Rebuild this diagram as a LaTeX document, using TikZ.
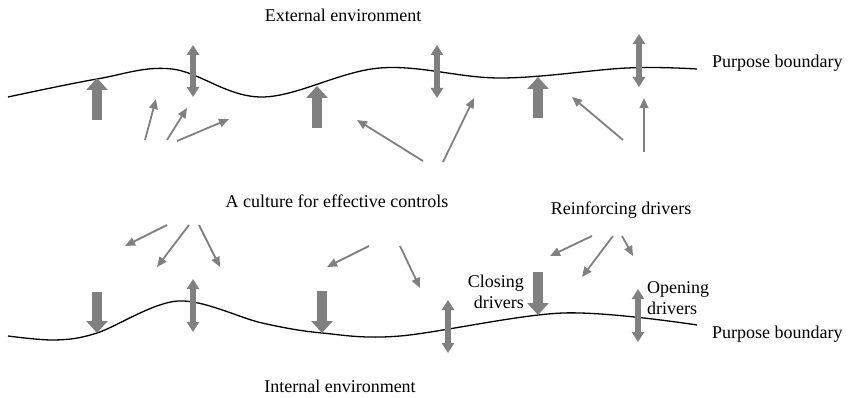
\documentclass[tikz,border=0pt]{standalone}
\usepackage{fontspec}
\setmainfont{Liberation Serif}
\usetikzlibrary{arrows.meta}
\definecolor{drivergray}{RGB}{128,128,128}
\tikzset{
  boundary/.style={line width=1.3pt, black},
  label/.style={font=\fontsize{18}{20.5}\selectfont, inner sep=0pt, align=center},
  thin/.style={drivergray, line width=1.8pt, -{Triangle[width=8.5pt,length=10pt]}},
  thick/.style={drivergray, line width=10pt, -{Triangle[width=21pt,length=12pt]}},
  both/.style={drivergray, line width=5.5pt, {Triangle[width=12pt,length=10pt]}-{Triangle[width=12pt,length=10pt]}},
}
\begin{document}
\begin{tikzpicture}[x=1pt,y=-1pt]
\useasboundingbox (0,0) rectangle (853,398);

% upper purpose boundary
\draw[boundary] plot[smooth, tension=0.6] coordinates
  {(8,97) (97,79) (172,69) (262,97) (380,68) (500,78) (627,68) (697,69)};
% lower purpose boundary
\draw[boundary] plot[smooth, tension=0.55] coordinates
  {(8,336) (55,340) (97,333) (178,301) (262,323) (322,333) (400,336) (563,313) (697,325)};

% labels
\node[label] (ext) at (343,15) {External environment};
\node[label, anchor=west] (pbtop) at (712,63) {Purpose boundary};
\node[label] (culture) at (337,201) {A culture for effective controls};
\node[label] (reinf) at (621,210) {Reinforcing drivers};
\node[label, align=right, anchor=east] (closing) at (524,292) {Closing\\drivers};
\node[label, align=left, anchor=west] (opening) at (647,298) {Opening\\drivers};
\node[label, anchor=west] (pbbot) at (712,334) {Purpose boundary};
\node[label] (int) at (340,386) {Internal environment};

% upper closing drivers (thick, pushing the boundary outwards)
\draw[thick] (97,120) -- (97,78);
\draw[thick] (317,128) -- (317,86);
\draw[thick] (538,118) -- (538,77);

% upper opening drivers (two-way)
\draw[both] (193,45) -- (193,97);
\draw[both] (437,45) -- (437,98);
\draw[both] (639,34) -- (639,87);

% upper reinforcing drivers
\draw[thin] (145,140) -- (156,99);
\draw[thin] (167,140) -- (187,108);
\draw[thin] (177,141) -- (229,119);
\draw[thin] (423,161) -- (357,120);
\draw[thin] (443,162) -- (474,98);
\draw[thin] (623,140) -- (572,97);
\draw[thin] (644,152) -- (644,98);

% lower reinforcing drivers
\draw[thin] (167,225) -- (125,246);
\draw[thin] (189,225) -- (157,267);
\draw[thin] (199,225) -- (220,267);
\draw[thin] (369,246) -- (327,267);
\draw[thin] (400,246) -- (420,288);
\draw[thin] (592,236) -- (550,256);
\draw[thin] (613,236) -- (582,277);
\draw[thin] (622,236) -- (633,256);

% lower closing drivers
\draw[thick] (97,292) -- (97,333);
\draw[thick] (322,291) -- (322,333);
\draw[thick] (538,272) -- (538,315);

% lower opening drivers
\draw[both] (193,279) -- (193,332);
\draw[both] (448,300) -- (448,353);
\draw[both] (638,289) -- (638,342);
\end{tikzpicture}
\end{document}
